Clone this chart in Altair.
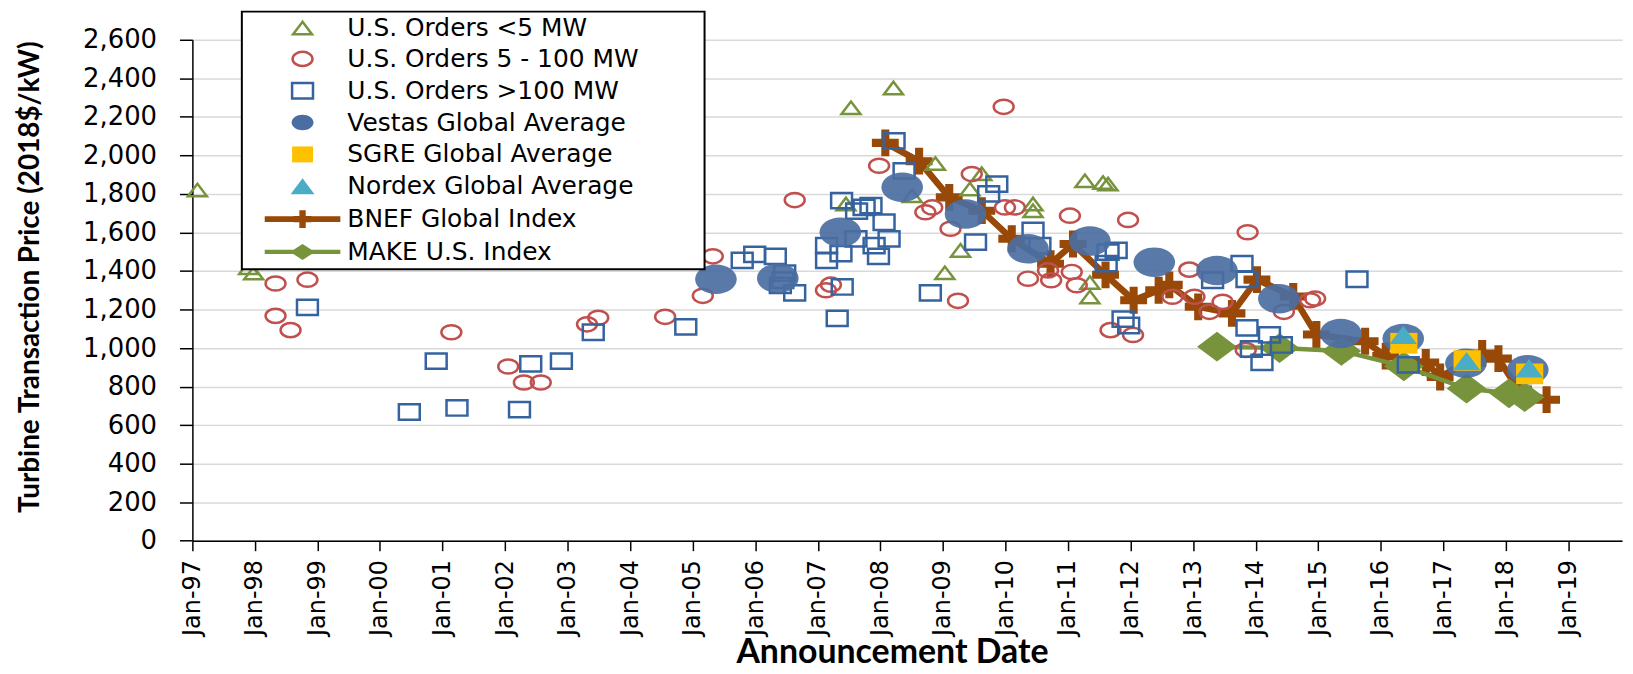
import altair as alt
import pandas as pd

# ---------------- data (decimal years, $/kW) ----------------
lt5_year = [1997.08, 1997.90, 1997.98, 2007.45, 2007.53, 2008.21, 2008.51, 2008.88, 2009.03,
            2009.28, 2009.43, 2009.62, 2010.44, 2010.44, 2011.27, 2011.35, 2011.35, 2011.56, 2011.64]
lt5_val = [1820, 1417, 1389, 1748, 2247, 2350, 1791, 1958, 1391,
           1507, 1825, 1905, 1748, 1713, 1868, 1340, 1265, 1859, 1851]

mid_year = [1998.33, 1998.84, 1998.33, 1998.57, 2001.14, 2002.05, 2002.30, 2002.57, 2003.31, 2003.49,
            2004.56, 2005.16, 2005.32, 2006.63, 2007.13, 2007.21, 2007.98, 2008.72, 2008.83, 2009.12,
            2009.24, 2009.46, 2009.97, 2009.99, 2010.15, 2010.36, 2010.68, 2010.73, 2011.03, 2011.06,
            2011.14, 2011.68, 2011.96, 2012.04, 2012.94, 2012.67, 2013.02, 2013.26, 2013.47, 2013.87,
            2013.84, 2014.45, 2014.87, 2014.95]
mid_val = [1335, 1355, 1167, 1093, 1082, 904, 821, 821, 1123, 1157,
           1162, 1271, 1476, 1768, 1300, 1329, 1946, 1705, 1730, 1619,
           1245, 1903, 2252, 1730, 1730, 1360, 1403, 1352, 1687, 1395,
           1326, 1093, 1665, 1068, 1407, 1266, 1266, 1188, 1240, 1601,
           990, 1188, 1248, 1257]

gt100_year = [1998.84, 2000.47, 2000.90, 2001.23, 2002.23, 2002.41, 2002.90, 2003.41, 2004.89, 2005.79,
              2005.99, 2006.32, 2006.47, 2006.44, 2006.40, 2006.63, 2007.31, 2007.39, 2007.38, 2007.14,
              2007.14, 2007.37, 2007.61, 2007.62, 2007.74, 2007.85, 2008.06, 2008.14, 2007.90, 2007.97,
              2008.22, 2008.38, 2008.80, 2009.52, 2009.73, 2009.86, 2010.44, 2010.55, 2011.61, 2011.64,
              2011.77, 2011.88, 2011.97, 2013.31, 2013.78, 2013.86, 2013.86, 2013.93, 2014.10, 2014.22,
              2014.41, 2015.62, 2016.44]
gt100_val = [1211, 668, 932, 689, 680, 918, 932, 1082, 1110, 1455,
             1486, 1476, 1389, 1352, 1325, 1286, 1154, 1317, 1765, 1532,
             1455, 1490, 1567, 1711, 1730, 1739, 1653, 1567, 1532, 1476,
             2075, 1920, 1286, 1550, 1800, 1851, 1610, 1532, 1438, 1498,
             1507, 1150, 1117, 1352, 1438, 1356, 1105, 995, 926, 1068,
             1016, 1357, 913]

vestas_year = [2005.37, 2006.36, 2007.36, 2008.35, 2009.36, 2010.36, 2011.35, 2012.38, 2013.38,
               2014.37, 2015.36, 2016.36, 2017.36, 2018.35]
vestas_val = [1357, 1362, 1601, 1834, 1696, 1515, 1555, 1445, 1402, 1256, 1076, 1050, 921, 887]

sgre_year = [2016.37, 2017.38, 2018.38]
sgre_val = [1025, 935, 866]

nordex_year = [2016.36, 2017.37, 2018.37]
nordex_val = [1068, 932, 895]

bnef_year = [2008.08, 2008.62, 2009.10, 2009.62, 2010.10, 2010.72, 2011.08, 2011.60, 2012.05, 2012.45,
             2012.62, 2013.08, 2013.62, 2014.02, 2014.60, 2014.97, 2015.75, 2016.08, 2016.72, 2016.95,
             2017.62, 2017.88, 2018.20, 2018.65]
bnef_val = [2065, 1970, 1782, 1713, 1567, 1438, 1540, 1380, 1248, 1300,
            1328, 1214, 1180, 1355, 1268, 1070, 1035, 958, 925, 850,
            972, 945, 785, 732]

make_year = [2013.38, 2014.38, 2015.37, 2016.37, 2017.37, 2018.05, 2018.30]
make_val = [1007, 1000, 985, 905, 790, 765, 745]

series_names = ["U.S. Orders <5 MW", "U.S. Orders 5 - 100 MW", "U.S. Orders >100 MW",
                "Vestas Global Average", "SGRE Global Average", "Nordex Global Average",
                "BNEF Global Index", "MAKE U.S. Index"]
year_ticks = list(range(1997, 2020))
y_ticks = list(range(0, 2601, 200))

# ---------------- helpers ----------------
def to_dates(years):
    out = []
    for y in years:
        yr = int(y)
        d = pd.Timestamp(year=yr, month=1, day=1) + pd.Timedelta(days=(y - yr) * 365.25)
        out.append(d.strftime("%Y-%m-%dT%H:%M:%S"))
    return out

def frame(years, vals, name):
    return pd.DataFrame({"date": to_dates(years), "value": vals, "series": name})

df_pts = pd.concat([
    frame(lt5_year, lt5_val, series_names[0]),
    frame(mid_year, mid_val, series_names[1]),
    frame(gt100_year, gt100_val, series_names[2]),
    frame(vestas_year, vestas_val, series_names[3]),
    frame(sgre_year, sgre_val, series_names[4]),
    frame(nordex_year, nordex_val, series_names[5]),
], ignore_index=True)
df_bnef = frame(bnef_year, bnef_val, series_names[6])
df_make = frame(make_year, make_val, series_names[7])

# ---------------- styles ----------------
GREEN = "#77933C"
RED = "#C0504D"
BLUE = "#3563A0"
VESTAS = "#4B6EA2"
SGRE = "#FFC000"
NORDEX = "#4BACC6"
BNEF = "#984807"

TRI = "M0,-0.63L0.95,0.63L-0.95,0.63Z"
ELL = "M-1,0A1,0.71 0 1,1 1,0A1,0.71 0 1,1 -1,0Z"
RECT = "M-1.05,-0.77H1.05V0.77H-1.05Z"
VELL = "M-1.1,0A1.1,0.78 0 1,1 1.1,0A1.1,0.78 0 1,1 -1.1,0Z"
SQF = "M-1.05,-0.8H1.05V0.8H-1.05Z"
NTRI = "M0,-0.8L1.2,0.8L-1.2,0.8Z"
CROSS = "M-0.3,-1H0.3V-0.3H1V0.3H0.3V1H-0.3V0.3H-1V-0.3H-0.3Z"
DIAM = "M0,-0.75L1,0L0,0.75L-1,0Z"
BNEF_LEG = ("M-3.8,-0.28H3.8V0.28H-3.8Z"
            "M-0.32,-0.9H0.32V-0.32H0.9V0.32H0.32V0.9H-0.32V0.32H-0.9V-0.32H-0.32Z")
MAKE_LEG = "M-3.8,-0.22H3.8V0.22H-3.8ZM0,-0.8L1.25,0L0,0.8L-1.25,0Z"

shape_range = [TRI, ELL, RECT, VELL, SQF, NTRI, BNEF_LEG, MAKE_LEG]
fill_range = ["transparent", "transparent", "transparent", VESTAS, SGRE, NORDEX, BNEF, GREEN]
stroke_range = [GREEN, RED, BLUE, "transparent", "transparent", "transparent",
                "transparent", "transparent"]

legend = alt.Legend(title="\u00a0", titleOrient="right", titlePadding=62,
                    titleFontSize=10, orient="none", legendX=49.7, legendY=-28.3)

x_enc = alt.X("date:T",
              scale=alt.Scale(domain=[alt.DateTime(year=1997, month=1, date=1),
                                      alt.DateTime(year=2019, month=11, date=10)]),
              axis=alt.Axis(values=[alt.DateTime(year=y, month=1, date=1) for y in year_ticks],
                            format="%b-%y", labelAngle=270, labelAlign="right",
                            labelBaseline="middle", tickSize=10, labelPadding=9,
                            grid=False, labelOverlap=False, labelFlush=False,
                            labelFont="DejaVu Sans", labelFontSize=24, labelColor="black",
                            domainColor="black", domainWidth=1.5, tickColor="black",
                            tickWidth=1.5, title="Announcement Date", titleFont="Lato",
                            titleFontWeight="bold", titleFontSize=34, titleColor="black",
                            titleX=703, titleY=122, titleAlign="center",
                            titleBaseline="alphabetic"))
y_enc = alt.Y("value:Q",
              scale=alt.Scale(domain=[0, 2600], nice=False, zero=True),
              axis=alt.Axis(values=y_ticks, format=",.0f", tickSize=13, labelPadding=23,
                            grid=True, gridColor="#D9D9D9", gridWidth=1.5,
                            labelFont="DejaVu Sans", labelFontSize=26, labelColor="black",
                            domainColor="black", domainWidth=1.5, tickColor="black",
                            tickWidth=1.5, title="Turbine Transaction Price (2018$/kW)",
                            titleFont="Lato", titleFontWeight="bold", titleFontSize=28,
                            titleColor="black", titleAngle=270, titleX=-163, titleY=238,
                            titleAlign="center", titleBaseline="middle"))

def series_layer(name, size, opacity=1.0):
    return alt.Chart(df_pts).transform_filter(
        alt.datum.series == name
    ).mark_point(filled=True, size=size, strokeWidth=2.5, opacity=opacity).encode(
        x=x_enc, y=y_enc,
        shape=alt.Shape("series:N", scale=alt.Scale(domain=series_names, range=shape_range),
                        legend=legend),
        fill=alt.Fill("series:N", scale=alt.Scale(domain=series_names, range=fill_range),
                      legend=legend),
        stroke=alt.Stroke("series:N", scale=alt.Scale(domain=series_names, range=stroke_range),
                          legend=legend),
    )

bnef_line = alt.Chart(df_bnef).mark_line(color=BNEF, strokeWidth=6.5).encode(x=x_enc, y=y_enc)
bnef_pts = alt.Chart(df_bnef).mark_point(shape=CROSS, filled=True, fill=BNEF, size=729,
                                         opacity=1, strokeWidth=0).encode(x=x_enc, y=y_enc)
make_line = alt.Chart(df_make).mark_line(color=GREEN, strokeWidth=4.5).encode(x=x_enc, y=y_enc)
make_pts = alt.Chart(df_make).mark_point(shape=DIAM, filled=True, fill=GREEN, size=1600,
                                         opacity=1, strokeWidth=0).encode(x=x_enc, y=y_enc)

chart = alt.layer(
    bnef_line, bnef_pts, make_line, make_pts,
    series_layer(series_names[0], 400),
    series_layer(series_names[1], 400),
    series_layer(series_names[2], 400),
    series_layer(series_names[3], 1444, 0.92),
    series_layer(series_names[4], 676),
    series_layer(series_names[5], 529),
).properties(
    width=1436.7, height=503.4,
    autosize=alt.AutoSizeParams(type="none"),
    padding={"left": 185.3, "top": 30.3, "right": 3, "bottom": 132},
).configure_view(stroke=None).configure_legend(
    padding=4, symbolOffset=44.5, labelOffset=32.5, symbolSize=400, symbolStrokeWidth=2.5,
    labelFont="DejaVu Sans", labelFontSize=25, labelColor="black", labelLimit=600,
    rowPadding=5, strokeColor="black", strokeWidth=2, fillColor="white", cornerRadius=0,
    symbolLimit=20,
)

chart.save("out.html", embed_options={"renderer": "svg", "actions": False})
